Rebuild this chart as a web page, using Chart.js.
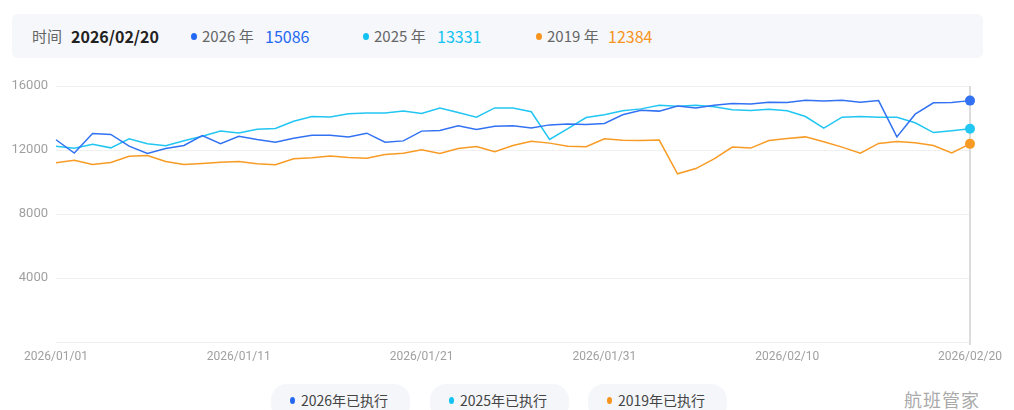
<!DOCTYPE html>
<html>
<head>
<meta charset="utf-8">
<script src="https://cdn.jsdelivr.net/npm/chart.js@4"></script>
<style>
  body { margin:0; background:#fff; font-family:"Noto Sans CJK SC","Noto Sans",sans-serif; }
  #wrap { position:relative; width:1014px; height:410px; overflow:hidden; }
  #head { position:absolute; left:12px; top:14px; width:971px; height:44px; background:#f5f7fa; border-radius:6px; }
  .t { position:absolute; top:0; line-height:44px; font-size:15px; white-space:nowrap; }
  .dot { position:absolute; top:19px; width:6px; height:7px; border-radius:50%; }
  #cv { position:absolute; left:0; top:0; }
  .pill { position:absolute; top:384px; height:36px; width:139px; background:#f4f6fa; border-radius:16px; }
  .pill span { position:absolute; top:0; line-height:32px; font-size:14px; color:#444; }
  .pill i { position:absolute; top:13px; left:19px; width:5px; height:7px; border-radius:50%; }
  #wm { position:absolute; left:904px; top:386px; font-size:18px; color:#aaa; letter-spacing:1px; }
</style>
</head>
<body>
<div id="wrap">
  <div id="head">
    <div class="t" style="left:20px;color:#666">时间</div>
    <div class="t" style="left:59px;color:#222;font-weight:bold;font-size:16px">2026/02/20</div>
    <div class="dot" style="left:179px;background:#2468f2"></div>
    <div class="t" style="left:190px;color:#666">2026 年</div>
    <div class="t" style="left:253px;color:#2468f2;font-size:16px">15086</div>
    <div class="dot" style="left:351px;background:#12c3f2"></div>
    <div class="t" style="left:362px;color:#666">2025 年</div>
    <div class="t" style="left:425px;color:#12c3f2;font-size:16px">13331</div>
    <div class="dot" style="left:524px;background:#f7941d"></div>
    <div class="t" style="left:535px;color:#666">2019 年</div>
    <div class="t" style="left:596px;color:#f7941d;font-size:16px">12384</div>
  </div>
  <canvas id="cv" width="1014" height="372"></canvas>
  <div class="pill" style="left:271px"><i style="background:#2468f2"></i><span style="left:30px">2026年已执行</span></div>
  <div class="pill" style="left:430px"><i style="background:#12c3f2"></i><span style="left:30px">2025年已执行</span></div>
  <div class="pill" style="left:588px"><i style="background:#f7941d"></i><span style="left:30px">2019年已执行</span></div>
  <div id="wm">航班管家</div>
</div>
<script>
const dates = [
  '2026/01/01','2026/01/02','2026/01/03','2026/01/04','2026/01/05','2026/01/06','2026/01/07','2026/01/08','2026/01/09','2026/01/10',
  '2026/01/11','2026/01/12','2026/01/13','2026/01/14','2026/01/15','2026/01/16','2026/01/17','2026/01/18','2026/01/19','2026/01/20',
  '2026/01/21','2026/01/22','2026/01/23','2026/01/24','2026/01/25','2026/01/26','2026/01/27','2026/01/28','2026/01/29','2026/01/30',
  '2026/01/31','2026/02/01','2026/02/02','2026/02/03','2026/02/04','2026/02/05','2026/02/06','2026/02/07','2026/02/08','2026/02/09',
  '2026/02/10','2026/02/11','2026/02/12','2026/02/13','2026/02/14','2026/02/15','2026/02/16','2026/02/17','2026/02/18','2026/02/19',
  '2026/02/20'
];
const y2026 = [
  12640,11810,13030,12970,12240,11790,12090,12280,12900,12400,
  12860,12650,12490,12740,12920,12920,12810,13050,12490,12570,
  13180,13220,13510,13280,13490,13510,13370,13570,13630,13600,
  13660,14200,14490,14430,14750,14620,14800,14900,14880,14990,
  14970,15110,15070,15110,14990,15090,12820,14240,14950,14970,
  15086
];
const y2025 = [
  12240,12115,12365,12135,12700,12385,12260,12575,12865,13180,
  13070,13300,13340,13800,14090,14070,14260,14320,14320,14430,
  14280,14630,14340,14050,14630,14630,14390,12660,13340,14030,
  14200,14450,14570,14800,14740,14800,14700,14510,14470,14550,
  14450,14090,13370,14050,14090,14050,14050,13700,13090,13200,
  13331
];
const y2019 = [
  11200,11360,11090,11220,11610,11650,11280,11090,11160,11240,
  11280,11140,11080,11450,11510,11620,11530,11490,11720,11800,
  12010,11780,12090,12220,11900,12280,12550,12430,12240,12200,
  12700,12610,12590,12620,10510,10840,11450,12180,12120,12590,
  12720,12820,12510,12180,11800,12410,12530,12450,12280,11820,
  12384
];
const yTicks = [0, 4000, 8000, 12000, 16000];

const last = dates.length - 1;
const ptR = c => c.dataIndex === last ? 5 : 0;

// vertical marker at the current (last) day
const crossLine = {
  id: 'crossLine',
  beforeDatasetsDraw(chart) {
    const x = chart.scales.x.getPixelForValue(last);
    const { top, bottom } = chart.chartArea;
    const g = chart.ctx;
    g.save();
    g.strokeStyle = '#dcdcdc';
    g.lineWidth = 2;
    g.beginPath(); g.moveTo(x, top); g.lineTo(x, bottom + 3); g.stroke();
    g.restore();
  }
};

function ds(label, data, color) {
  return { label, data, borderColor: color, backgroundColor: color, borderWidth: 1.5,
    tension: 0, pointRadius: ptR, pointHoverRadius: ptR, pointBorderWidth: 0 };
}

new Chart(document.getElementById('cv'), {
  type: 'line',
  data: {
    labels: dates,
    datasets: [
      ds('2026年已执行', y2026, '#3272f2'),
      ds('2025年已执行', y2025, '#22c6f3'),
      ds('2019年已执行', y2019, '#f89b25')
    ]
  },
  plugins: [crossLine],
  options: {
    responsive: false,
    animation: false,
    layout: { padding: { top: 86, right: 44, left: 0, bottom: 0 } },
    plugins: { legend: { display: false }, tooltip: { enabled: false } },
    scales: {
      x: {
        grid: { display: false, drawTicks: false },
        border: { color: '#eeeeee' },
        afterFit: s => { s.height = 30; },
        ticks: {
          autoSkip: false, maxRotation: 0, padding: 8,
          color: '#a0a0a0', font: { size: 12, family: 'Roboto, "Noto Sans", sans-serif' },
          callback: (v, i) => i % 10 === 0 ? dates[i] : ''
        }
      },
      y: {
        min: yTicks[0], max: yTicks[yTicks.length - 1],
        afterBuildTicks: s => { s.ticks = yTicks.map(v => ({ value: v })); },
        afterFit: s => { s.width = 56; },
        grid: { color: '#f0f0f0', drawTicks: false },
        border: { display: false },
        ticks: {
          padding: 8, color: '#a0a0a0', font: { size: 13, family: 'Roboto, "Noto Sans", sans-serif' },
          callback: v => v === 0 ? '' : v
        }
      }
    }
  }
});
</script>
</body>
</html>
